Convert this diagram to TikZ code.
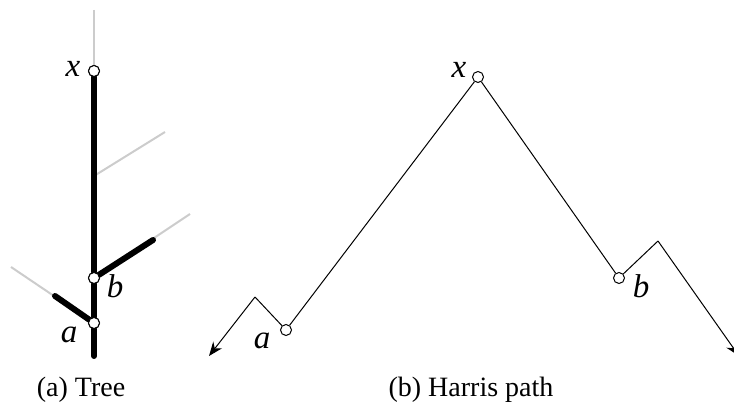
\documentclass[tikz,border=0pt]{standalone}
\usepackage{fontspec}
\setmainfont{Liberation Serif}
\usetikzlibrary{arrows.meta}
\begin{document}
\begin{tikzpicture}[x=1pt,y=-1pt,
  vtx/.style={circle,draw=black,fill=white,line width=1pt,inner sep=0pt,minimum size=11pt},
  thickedge/.style={line width=6pt,line cap=round},
  greyedge/.style={line width=2pt,draw=black!20},
  pathedge/.style={line width=1pt},
  lbl/.style={font=\fontsize{33}{36}\selectfont\itshape,anchor=base,inner sep=0pt},
  captext/.style={font=\fontsize{28}{32}\selectfont,anchor=base,inner sep=0pt},
  tip/.style={-{Stealth[length=14pt,width=11pt]}}]
\useasboundingbox (0,0) rectangle (734,411);
% ---- (a) Tree ----
\coordinate (xtop) at (94,10);
\coordinate (bot) at (94,356);
\coordinate (g1s) at (94,176);
\coordinate (g1e) at (165,132);
\coordinate (bmid) at (153,240);
\coordinate (bend) at (190,214);
\coordinate (amid) at (55,296);
\coordinate (aend) at (11,267);
\node[vtx] (tx) at (94,71) {};
\node[vtx] (tb) at (94,278) {};
\node[vtx] (ta) at (94,323) {};
\draw[greyedge] (xtop) -- (tx);
\draw[greyedge] (g1s) -- (g1e);
\draw[greyedge] (tb) -- (bend);
\draw[greyedge] (ta) -- (aend);
\draw[thickedge] (tx) -- (tb) -- (ta) -- (bot);
\draw[thickedge] (tb) -- (bmid);
\draw[thickedge] (ta) -- (amid);
\node[vtx] at (tx) {};
\node[vtx] at (tb) {};
\node[vtx] at (ta) {};
\node[lbl] (ltx) at (73,77) {x};
\node[lbl] (ltb) at (115,298) {b};
\node[lbl] (lta) at (69,343) {a};
% ---- (b) Harris path ----
\node[vtx] (px) at (478,77) {};
\node[vtx] (pa) at (286,330) {};
\node[vtx] (pb) at (619,278) {};
\coordinate (ltip) at (209,356);
\coordinate (lpk) at (255,297);
\coordinate (rpk) at (658,241);
\coordinate (rtip) at (739,356);
\draw[pathedge] (lpk) -- (pa) -- (px) -- (pb) -- (rpk);
\draw[pathedge,tip] (lpk) -- (ltip);
\draw[pathedge,tip] (rpk) -- (rtip);
\node[lbl] (lpx) at (459,78) {x};
\node[lbl] (lpb) at (641,298) {b};
\node[lbl] (lpa) at (262,349) {a};
% ---- captions ----
\node[captext] (ca) at (81,397) {(a) Tree};
\node[captext] (cb) at (471,397) {(b) Harris path};
\end{tikzpicture}
\end{document}
